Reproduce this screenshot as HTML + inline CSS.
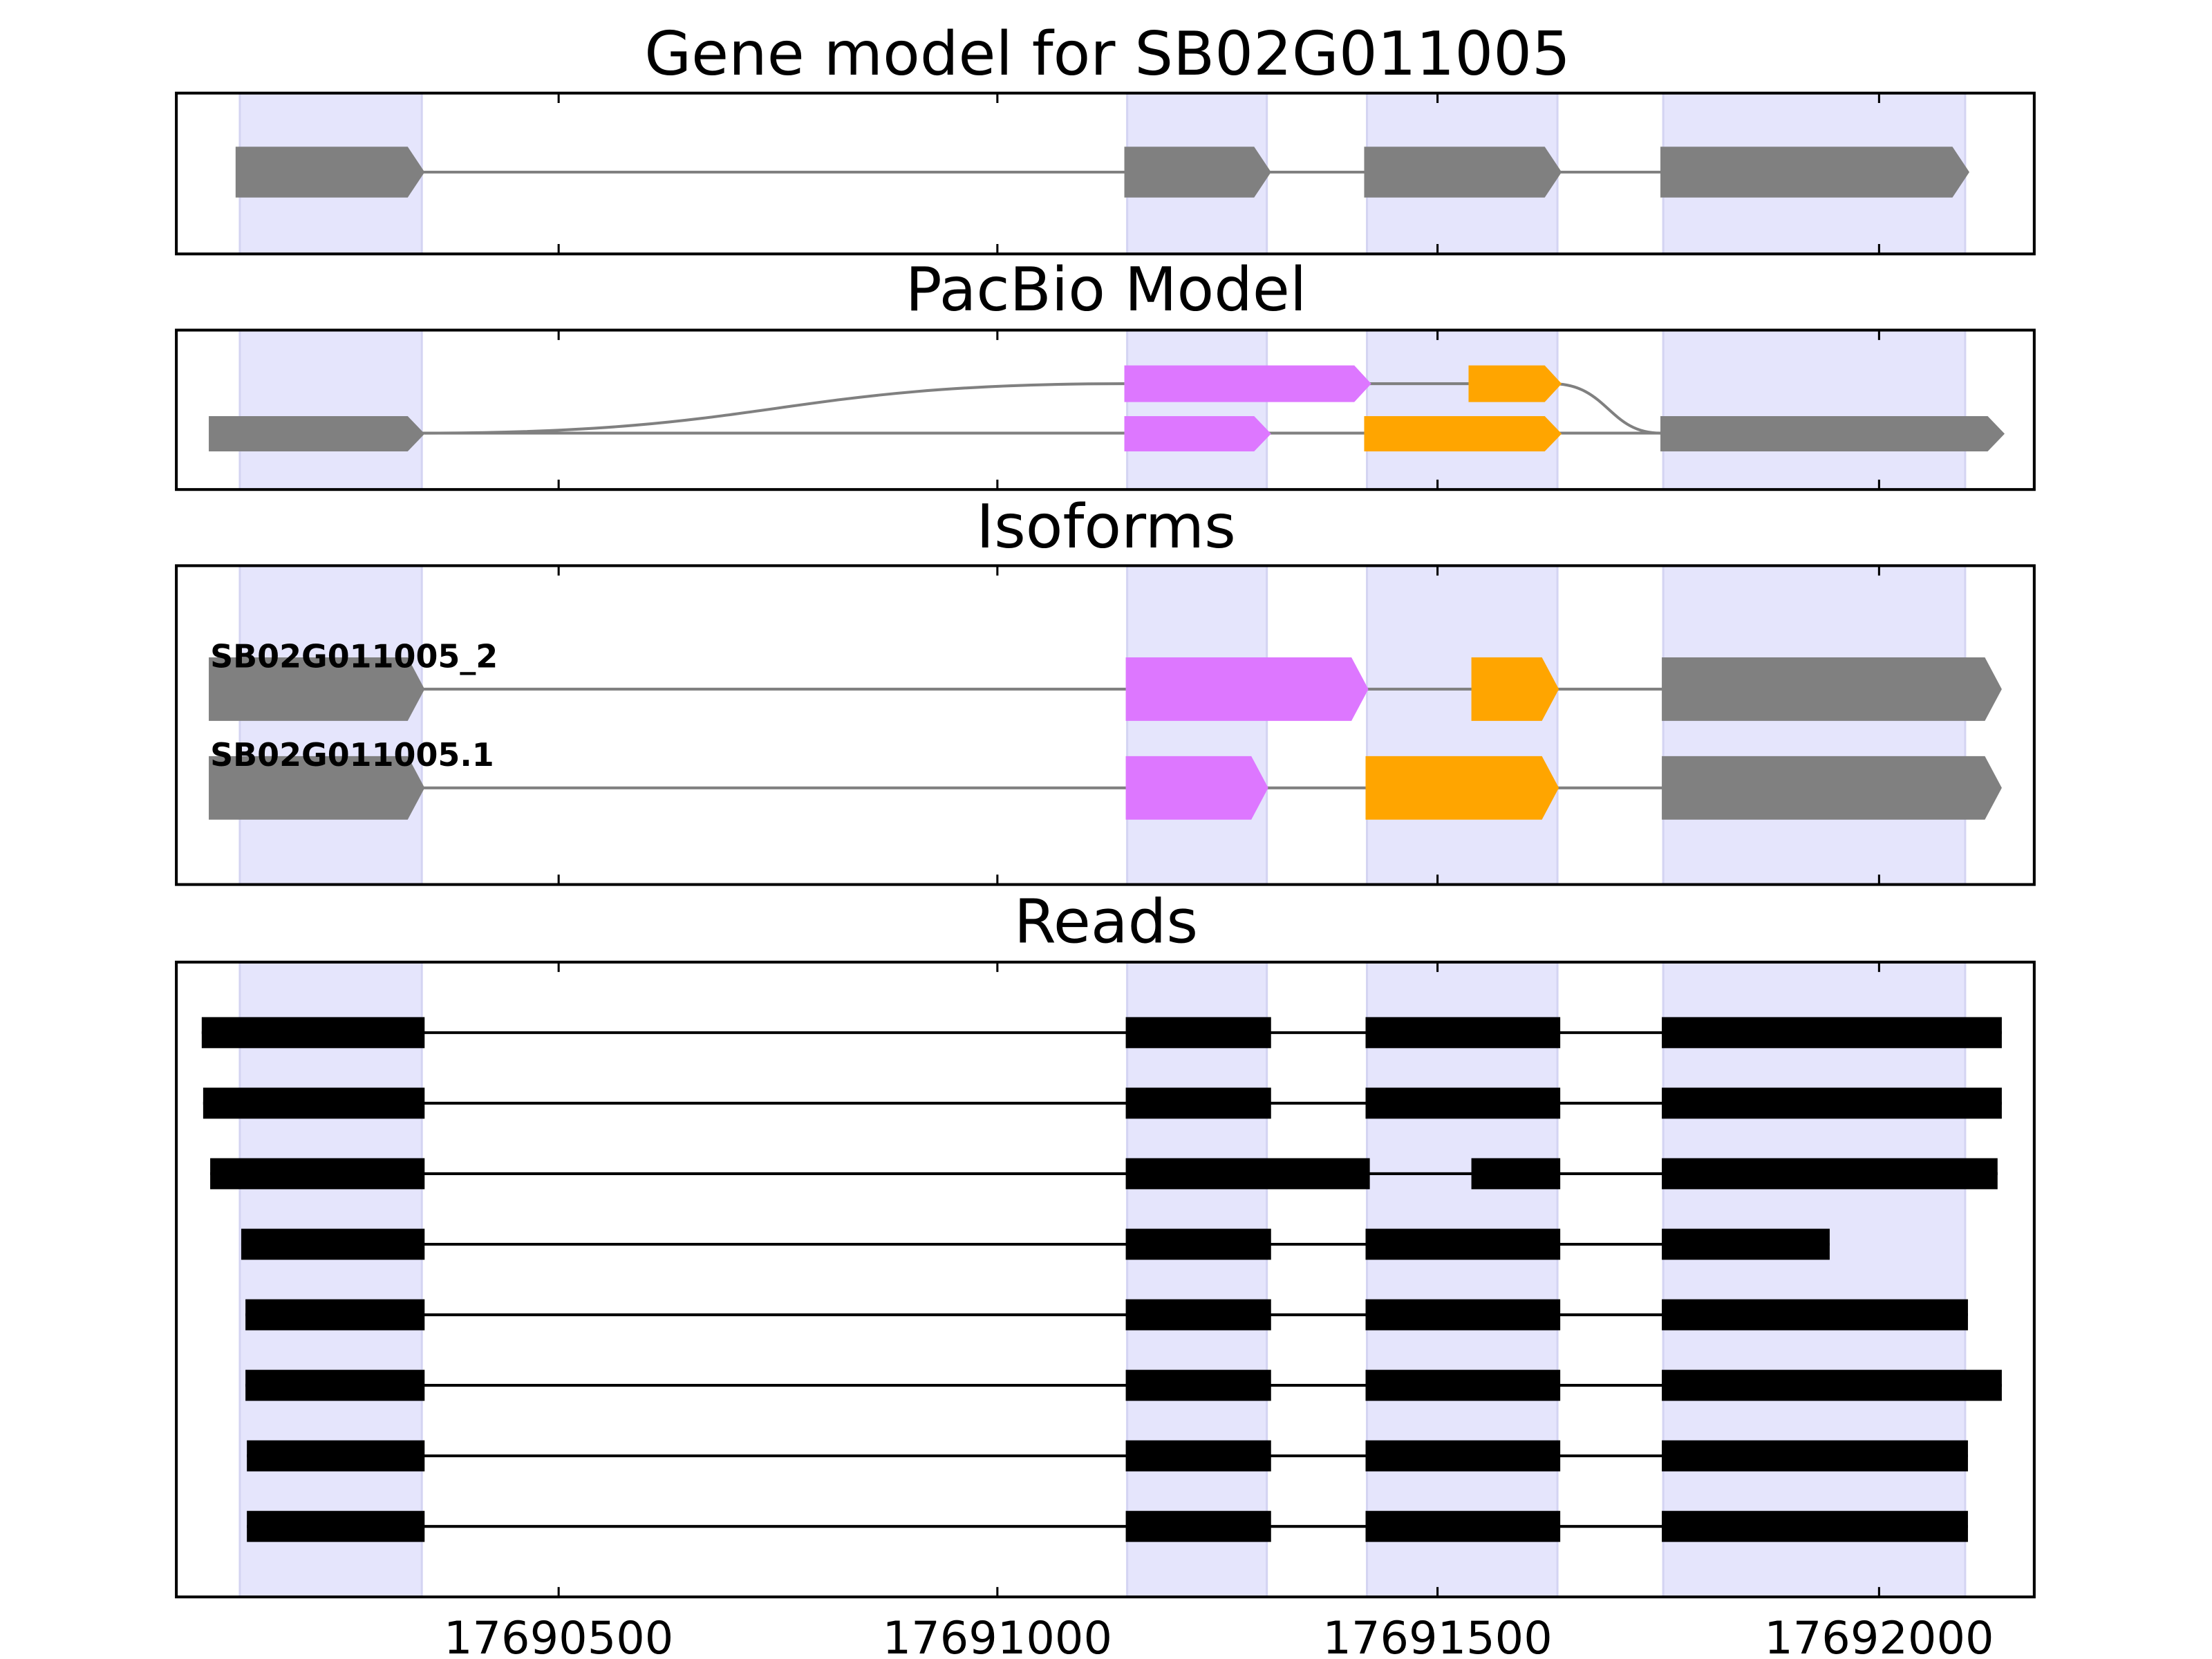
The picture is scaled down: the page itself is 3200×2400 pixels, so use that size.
<!DOCTYPE html>
<html><head><meta charset="utf-8"><style>html,body{margin:0;padding:0;background:#fff}svg{display:block}</style></head>
<body>
<svg xmlns="http://www.w3.org/2000/svg" width="3200" height="2400" viewBox="0 0 1568 1176" font-family="DejaVu Sans, Liberation Sans, sans-serif">
<rect width="1568" height="1176" fill="#fff"/>
<g fill="#e5e5fc" stroke="#d4d4f2" stroke-width="1.5">
<rect x="170" y="66" width="129" height="114"/><rect x="799" y="66" width="99" height="114"/><rect x="969" y="66" width="135" height="114"/><rect x="1179" y="66" width="214" height="114"/>
<rect x="170" y="234" width="129" height="113"/><rect x="799" y="234" width="99" height="113"/><rect x="969" y="234" width="135" height="113"/><rect x="1179" y="234" width="214" height="113"/>
<rect x="170" y="401" width="129" height="226"/><rect x="799" y="401" width="99" height="226"/><rect x="969" y="401" width="135" height="226"/><rect x="1179" y="401" width="214" height="226"/>
<rect x="170" y="682" width="129" height="450"/><rect x="799" y="682" width="99" height="450"/><rect x="969" y="682" width="135" height="450"/><rect x="1179" y="682" width="214" height="450"/>
</g>
<g font-size="43" text-anchor="middle" fill="#000">
<text x="785" y="53">Gene model for SB02G011005</text>
<text x="784" y="220">PacBio Model</text>
<text x="784" y="388">Isoforms</text>
<text x="784" y="668">Reads</text>
</g>
<line x1="290" y1="122" x2="1180" y2="122" stroke="#808080" stroke-width="2"/>
<g fill="#808080">
<polygon points="167,104 289,104 301,122 289,140 167,140"/>
<polygon points="797,104 889,104 901,122 889,140 797,140"/>
<polygon points="967,104 1095,104 1107,122 1095,140 967,140"/>
<polygon points="1177,104 1384,104 1396,122 1384,140 1177,140"/>
</g>
<g stroke="#808080" stroke-width="2" fill="none">
<line x1="290" y1="307" x2="1180" y2="307"/>
<line x1="960" y1="272" x2="1045" y2="272"/>
<path d="M301,307 C550,307 550,272 797,272"/>
<path d="M1100,272 C1140,272 1140,307 1177,307"/>
</g>
<g fill="#dd77ff">
<polygon points="797,259 960,259 972,272 960,285 797,285"/>
<polygon points="797,295 889,295 901,307.5 889,320 797,320"/>
</g>
<g fill="#ffa500">
<polygon points="1041,259 1095,259 1107,272 1095,285 1041,285"/>
<polygon points="967,295 1095,295 1107,307.5 1095,320 967,320"/>
</g>
<g fill="#808080">
<polygon points="148,295 289,295 301,307.5 289,320 148,320"/>
<polygon points="1177,295 1409,295 1421,307.5 1409,320 1177,320"/>
</g>
<g stroke="#808080" stroke-width="2">
<line x1="290" y1="488.5" x2="1180" y2="488.5"/>
<line x1="290" y1="558.5" x2="1180" y2="558.5"/>
</g>
<g fill="#808080">
<polygon points="148,466 289,466 301,488.5 289,511 148,511"/>
<polygon points="1178,466 1407,466 1419,488.5 1407,511 1178,511"/>
<polygon points="148,536 289,536 301,558.5 289,581 148,581"/>
<polygon points="1178,536 1407,536 1419,558.5 1407,581 1178,581"/>
</g>
<g fill="#dd77ff">
<polygon points="798,466 958,466 970,488.5 958,511 798,511"/>
<polygon points="798,536 887,536 899,558.5 887,581 798,581"/>
</g>
<g fill="#ffa500">
<polygon points="1043,466 1093,466 1105,488.5 1093,511 1043,511"/>
<polygon points="968,536 1093,536 1105,558.5 1093,581 968,581"/>
</g>
<g font-size="22.5" font-weight="bold" fill="#000">
<text x="149" y="473">SB02G011005_2</text>
<text x="149" y="543">SB02G011005.1</text>
</g>
<g stroke="#000" stroke-width="2">
<line x1="143" y1="732" x2="1419" y2="732"/>
<line x1="144" y1="782" x2="1419" y2="782"/>
<line x1="149" y1="832" x2="1416" y2="832"/>
<line x1="171" y1="882" x2="1297" y2="882"/>
<line x1="174" y1="932" x2="1395" y2="932"/>
<line x1="174" y1="982" x2="1419" y2="982"/>
<line x1="175" y1="1032" x2="1395" y2="1032"/>
<line x1="175" y1="1082" x2="1395" y2="1082"/>
</g>
<g fill="#000">
<rect x="143" y="721" width="158" height="22"/><rect x="798" y="721" width="103" height="22"/><rect x="968" y="721" width="138" height="22"/><rect x="1178" y="721" width="241" height="22"/>
<rect x="144" y="771" width="157" height="22"/><rect x="798" y="771" width="103" height="22"/><rect x="968" y="771" width="138" height="22"/><rect x="1178" y="771" width="241" height="22"/>
<rect x="149" y="821" width="152" height="22"/><rect x="798" y="821" width="173" height="22"/><rect x="1043" y="821" width="63" height="22"/><rect x="1178" y="821" width="238" height="22"/>
<rect x="171" y="871" width="130" height="22"/><rect x="798" y="871" width="103" height="22"/><rect x="968" y="871" width="138" height="22"/><rect x="1178" y="871" width="119" height="22"/>
<rect x="174" y="921" width="127" height="22"/><rect x="798" y="921" width="103" height="22"/><rect x="968" y="921" width="138" height="22"/><rect x="1178" y="921" width="217" height="22"/>
<rect x="174" y="971" width="127" height="22"/><rect x="798" y="971" width="103" height="22"/><rect x="968" y="971" width="138" height="22"/><rect x="1178" y="971" width="241" height="22"/>
<rect x="175" y="1021" width="126" height="22"/><rect x="798" y="1021" width="103" height="22"/><rect x="968" y="1021" width="138" height="22"/><rect x="1178" y="1021" width="217" height="22"/>
<rect x="175" y="1071" width="126" height="22"/><rect x="798" y="1071" width="103" height="22"/><rect x="968" y="1071" width="138" height="22"/><rect x="1178" y="1071" width="217" height="22"/>
</g>
<g fill="none" stroke="#000" stroke-width="2">
<rect x="125" y="66" width="1317" height="114"/>
<rect x="125" y="234" width="1317" height="113"/>
<rect x="125" y="401" width="1317" height="226"/>
<rect x="125" y="682" width="1317" height="450"/>
</g>
<g stroke="#000" stroke-width="1.5">
<path d="M396,66v7M707,66v7M1019,66v7M1332,66v7M396,180v-7M707,180v-7M1019,180v-7M1332,180v-7"/>
<path d="M396,234v7M707,234v7M1019,234v7M1332,234v7M396,347v-7M707,347v-7M1019,347v-7M1332,347v-7"/>
<path d="M396,401v7M707,401v7M1019,401v7M1332,401v7M396,627v-7M707,627v-7M1019,627v-7M1332,627v-7"/>
<path d="M396,682v7M707,682v7M1019,682v7M1332,682v7M396,1132v-7M707,1132v-7M1019,1132v-7M1332,1132v-7"/>
</g>
<g font-size="32" text-anchor="middle" fill="#000">
<text x="396" y="1172">17690500</text>
<text x="707" y="1172">17691000</text>
<text x="1019" y="1172">17691500</text>
<text x="1332" y="1172">17692000</text>
</g>
</svg>
</body></html>
